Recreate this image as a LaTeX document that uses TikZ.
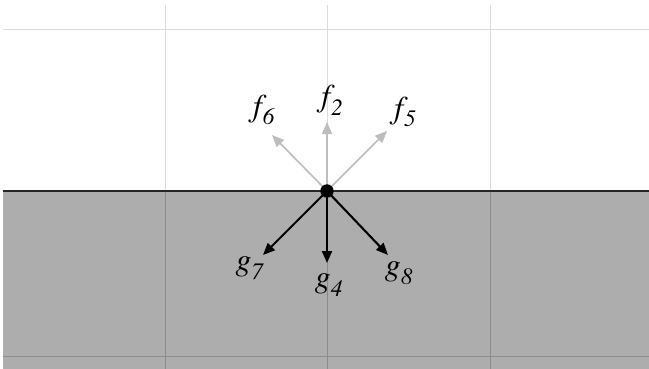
\documentclass[tikz,border=0pt]{standalone}
\usepackage{mathptmx}
\usetikzlibrary{arrows.meta}
\definecolor{ground}{HTML}{ADADAD}
\definecolor{farrow}{HTML}{BDBDBD}
\newcommand{\lowsub}[1]{_{\lower3.5pt\hbox{$\scriptstyle\mathit{#1}$}}}
\tikzset{
  gridline/.style={black!14, line width=0.6pt},
  gridlinedark/.style={black!45, line width=0.6pt},
  farr/.style={farrow, line width=1.4pt, -{Triangle[length=3.6mm,width=3mm]}},
  garr/.style={black, line width=1.8pt, -{Triangle[length=3.6mm,width=3mm]}},
  lab/.style={inner sep=0pt, font=\fontsize{27}{32}\selectfont},
}
\begin{document}
\begin{tikzpicture}[x=0.03cm, y=-0.03cm]
\useasboundingbox (0,0) rectangle (649,369);
\fill[white] (0,0) rectangle (649,369);
% ground
\fill[ground] (3,191) rectangle (649,369);
% grid on white
\draw[gridline] (3,29) -- (649,29);
\foreach \x in {165,327,490} \draw[gridline] (\x,5) -- (\x,191);
% grid on gray
\draw[gridlinedark] (3,356) -- (649,356);
\foreach \x in {165,327,490} \draw[gridlinedark] (\x,191) -- (\x,369);
% boundary
\draw[black!85, line width=1.5pt] (3,191) -- (649,191);
% point and arrows
\coordinate (o) at (327,191);
\coordinate (t6) at (272,135);
\coordinate (t2) at (327,122);
\coordinate (t5) at (387,131);
\coordinate (t7) at (263,255);
\coordinate (t4) at (327,263);
\coordinate (t8) at (388,255);
\draw[farr] (o) -- (t6);
\draw[farr] (o) -- (t2);
\draw[farr] (o) -- (t5);
\draw[garr] (o) -- (t7);
\draw[garr] (o) -- (t4);
\draw[garr] (o) -- (t8);
\node[circle, fill=black, minimum size=0.4cm, inner sep=0pt] (dot) at (o) {};
% labels
\node[lab] (f6) at (262,110) {$f\lowsub{6}$};
\node[lab] (f2) at (330,100) {$f\lowsub{2}$};
\node[lab] (f5) at (403,112) {$f\lowsub{5}$};
\node[lab] (g7) at (250,268) {$g\lowsub{7}$};
\node[lab] (g4) at (329,285) {$g\lowsub{4}$};
\node[lab] (g8) at (399,273) {$g\lowsub{8}$};
\end{tikzpicture}
\end{document}
